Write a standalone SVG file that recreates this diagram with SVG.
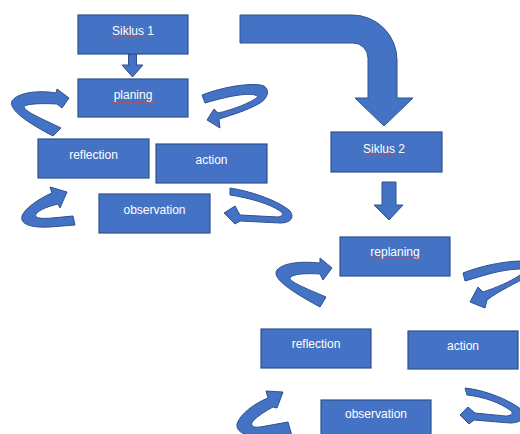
<svg xmlns="http://www.w3.org/2000/svg" width="520" height="434" viewBox="0 0 520 434">
<style>
.box{fill:#4472C4;stroke:#2F528F;stroke-width:1.2}
.shp{fill:#4472C4;stroke:#2F528F;stroke-width:1;stroke-linejoin:round}
.lbl{fill:#ffffff;font-family:"Liberation Sans","Open Sans",sans-serif;font-size:12px;text-anchor:middle}
.sq{fill:none;stroke:#C0504D;stroke-width:0.9}
</style>
<rect width="520" height="434" fill="#ffffff"/>
<g id="connectors">
  <path class="shp" d="M240 15 L352 15 A45 45 0 0 1 397 60 L397 98 L413 98 L384 126 L355 98 L368 98 L368 58 A15 15 0 0 0 353 43 L240 43 Z"/>
  <path class="shp" d="M128.5 54 L136.5 54 L136.5 65 L143 65 L132.5 77 L122 65 L128.5 65 Z"/>
  <path class="shp" d="M382 182 L396 182 L396 205 L403 205 L389 220 L374 205 L382 205 Z"/>
  <path class="shp" d="M56 93 C40 90 18 92 12 101 C8 110 30 124 53 136 L61 128 C45 120 25 112 24 107 C24 104 40 103 57 104 L62 108 L69 98 L57 89 Z"/>
  <path class="shp" d="M202 95 C225 86 255 82 264 86 C270 90 268 98 260 103 C248 110 235 114 219 119 L220 128 L207 120 L214 109 L218 113 C232 110 250 103 258 97 C255 92 235 94 205 103 Z"/>
  <path class="shp" d="M52 193 C40 198 25 208 22 216 C20 224 30 228 50 227 L75 225 L73 216 L52 218 C40 219 34 218 36 214 C40 209 50 206 58 204 L60 208 L67 192 L50 187 Z"/>
  <path class="shp" d="M230 188 C255 192 280 202 290 211 C295 218 290 223 280 223 L240 221 L235 224 L224 213 L235 206 L240 215 L278 217 C284 216 283 213 280 211 C270 204 250 198 230 195 Z"/>
  <path class="shp" d="M320 263 C300 261 283 263 277 270 C272 277 285 288 320 307 L326 297 C305 288 290 282 290 278 C292 274 305 273 320 274 L323 280 L332 268 L320 258 Z"/>
  <path class="shp" d="M463 273 C480 266 505 261 522 261 C532 262 534 270 528 276 C515 284 500 290 487 300 L485 308 L470 302 L478 287 L483 292 C495 288 510 282 520 275 C524 272 522 269 518 269 C500 270 485 275 465 281 Z"/>
  <path class="shp" d="M268 398 C255 403 240 414 237 424 C236 432 245 436 260 436 L292 436 L288 422 L260 427 C252 428 250 425 253 421 C258 416 265 411 273 407 L277 408 L283 392 L266 391 Z"/>
  <path class="shp" d="M465 388 C485 390 510 400 522 410 C528 416 522 423 510 423 L474 420 L469 424 L460 415 L468 407 L475 413 L505 416 C512 416 514 413 510 410 C500 403 485 397 467 395 Z"/>
</g>
<g id="siklus1">
  <rect class="box" x="78" y="15" width="110" height="39"/>
  <text class="lbl" x="133" y="35">Siklus 1</text>
  <path class="sq" d="M110 37.5 l2 -1 l2 1 l2 -1 l2 1 l2 -1 l2 1 l2 -1 l2 1 l2 -1 l2 1 l2 -1 l2 1 l2 -1 l2 1 l2 -1 l2 1 l2 -1 l2 1"/>
</g>
<g id="planing">
  <rect class="box" x="78" y="79" width="110" height="38"/>
  <text class="lbl" x="133" y="99">planing</text>
  <path class="sq" d="M111 103 l2 -1 l2 1 l2 -1 l2 1 l2 -1 l2 1 l2 -1 l2 1 l2 -1 l2 1 l2 -1 l2 1 l2 -1 l2 1 l2 -1 l2 1 l2 -1 l2 1 l2 -1 l2 1 l2 -1 l2 1"/>
</g>
<g id="reflection1">
  <rect class="box" x="38" y="139" width="111" height="39"/>
  <text class="lbl" x="93.5" y="159">reflection</text>
</g>
<g id="action1">
  <rect class="box" x="156" y="144" width="111" height="39"/>
  <text class="lbl" x="211.5" y="164">action</text>
</g>
<g id="observation1">
  <rect class="box" x="99" y="194" width="111" height="39"/>
  <text class="lbl" x="154.5" y="214">observation</text>
</g>
<g id="siklus2">
  <rect class="box" x="331" y="132" width="111" height="40"/>
  <text class="lbl" x="384" y="153">Siklus 2</text>
  <path class="sq" d="M363 155.5 l2 -1 l2 1 l2 -1 l2 1 l2 -1 l2 1 l2 -1 l2 1 l2 -1 l2 1 l2 -1 l2 1 l2 -1 l2 1 l2 -1 l2 1"/>
</g>
<g id="replaning">
  <rect class="box" x="340" y="237" width="110" height="39"/>
  <text class="lbl" x="395" y="256">replaning</text>
  <path class="sq" d="M370 259.5 l2 -1 l2 1 l2 -1 l2 1 l2 -1 l2 1 l2 -1 l2 1 l2 -1 l2 1 l2 -1 l2 1 l2 -1 l2 1 l2 -1 l2 1 l2 -1 l2 1 l2 -1 l2 1 l2 -1 l2 1 l2 -1 l2 1 l2 -1 l2 1"/>
</g>
<g id="reflection2">
  <rect class="box" x="261" y="329" width="110" height="39"/>
  <text class="lbl" x="316" y="348">reflection</text>
</g>
<g id="action2">
  <rect class="box" x="408" y="331" width="110" height="38"/>
  <text class="lbl" x="463" y="350">action</text>
</g>
<g id="observation2">
  <rect class="box" x="321" y="400" width="110" height="40"/>
  <text class="lbl" x="376" y="418">observation</text>
</g>
</svg>
